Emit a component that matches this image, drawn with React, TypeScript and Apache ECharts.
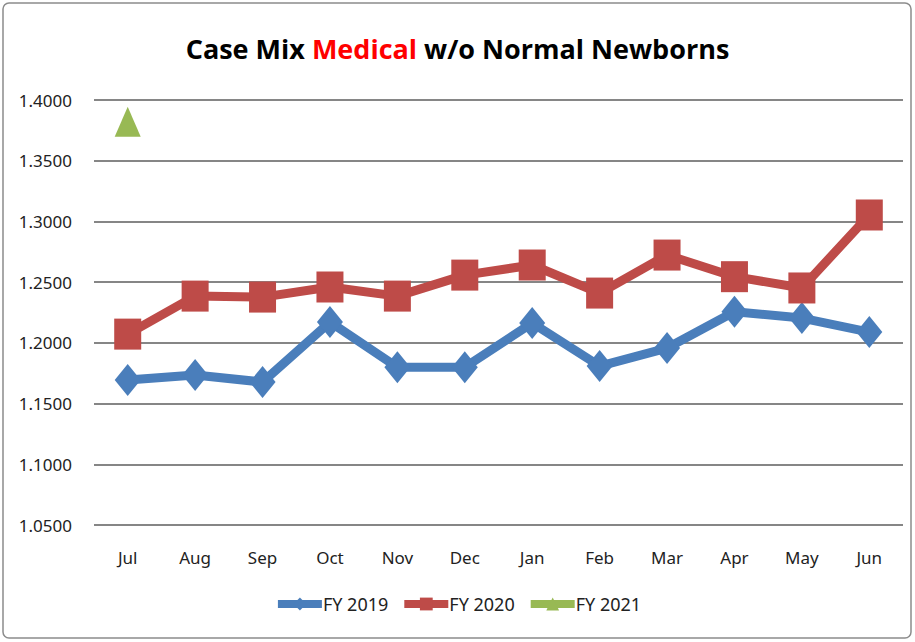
import React, { useEffect, useRef } from "react";
import * as echarts from "echarts";

const months = ["Jul", "Aug", "Sep", "Oct", "Nov", "Dec", "Jan", "Feb", "Mar", "Apr", "May", "Jun"];
const fy2019 = [1.1695, 1.1735, 1.1677, 1.2171, 1.18, 1.18, 1.2163, 1.1809, 1.1957, 1.2256, 1.2204, 1.2089];
const fy2020 = [1.2072, 1.2385, 1.2377, 1.246, 1.2385, 1.2558, 1.2641, 1.241, 1.2723, 1.2545, 1.2452, 1.3053];
const fy2021 = [1.382, null, null, null, null, null, null, null, null, null, null, null];
const yMin = 1.05;
const yMax = 1.4;
const yStep = 0.05;

const FONT = "'Noto Sans', 'Open Sans', sans-serif";

export default function App() {
  const ref = useRef<HTMLDivElement>(null);
  useEffect(() => {
    document.body.style.margin = "0";
    const chart = echarts.init(ref.current!, null, { renderer: "svg" });
    chart.setOption({
      animation: false,
      backgroundColor: "#ffffff",
      graphic: [
        {
          type: "rect",
          shape: { x: 3, y: 3, width: 908, height: 635, r: 6 },
          style: { fill: "none", stroke: "#8c8c8c", lineWidth: 1.5 },
          z: -1,
        },
      ],
      title: {
        left: "center",
        top: 30,
        text: "{a|Case Mix }{b|Medical}{a| w/o Normal Newborns}",
        textStyle: {
          rich: {
            a: { fontFamily: "'Open Sans', sans-serif", fontWeight: "bold", fontSize: 27, color: "#000000" },
            b: { fontFamily: "'Open Sans', sans-serif", fontWeight: "bold", fontSize: 27, color: "#ff0000" },
          },
        },
      },
      legend: {
        bottom: 24,
        left: "center",
        itemWidth: 44,
        itemHeight: 16,
        itemGap: 12,
        lineStyle: { width: 8 },
        textStyle: { fontFamily: FONT, fontSize: 18, color: "#222222", padding: [0, 0, 0, -4] },
        data: ["FY 2019", "FY 2020", "FY 2021"],
      },
      grid: { left: 94, right: 12, top: 100, bottom: 117 },
      xAxis: {
        type: "category",
        data: months,
        boundaryGap: true,
        axisLine: { show: false },
        axisTick: { show: false },
        axisLabel: { fontFamily: FONT, fontSize: 17, color: "#222222", margin: 24 },
      },
      yAxis: {
        type: "value",
        min: yMin,
        max: yMax,
        interval: yStep,
        axisLine: { show: false },
        axisTick: { show: false },
        axisLabel: {
          fontFamily: FONT,
          fontSize: 17,
          color: "#222222",
          margin: 22,
          formatter: (v: number) => v.toFixed(4),
        },
        splitLine: { lineStyle: { color: "#868686", width: 2 } },
      },
      series: [
        {
          name: "FY 2019",
          type: "line",
          data: fy2019,
          symbol: "diamond",
          symbolSize: [26, 32],
          itemStyle: { color: "#4a7ebb" },
          lineStyle: { color: "#4a7ebb", width: 9 },
        },
        {
          name: "FY 2020",
          type: "line",
          data: fy2020,
          symbol: "rect",
          symbolSize: [27, 31],
          itemStyle: { color: "#be4b48" },
          lineStyle: { color: "#be4b48", width: 9 },
        },
        {
          name: "FY 2021",
          type: "line",
          data: fy2021,
          symbol: "triangle",
          symbolSize: [26, 30],
          itemStyle: { color: "#98b954" },
          lineStyle: { color: "#98b954", width: 9 },
        },
      ],
    });
    return () => chart.dispose();
  }, []);
  return <div ref={ref} style={{ position: "absolute", left: 0, top: 0, width: 915, height: 642 }} />;
}
